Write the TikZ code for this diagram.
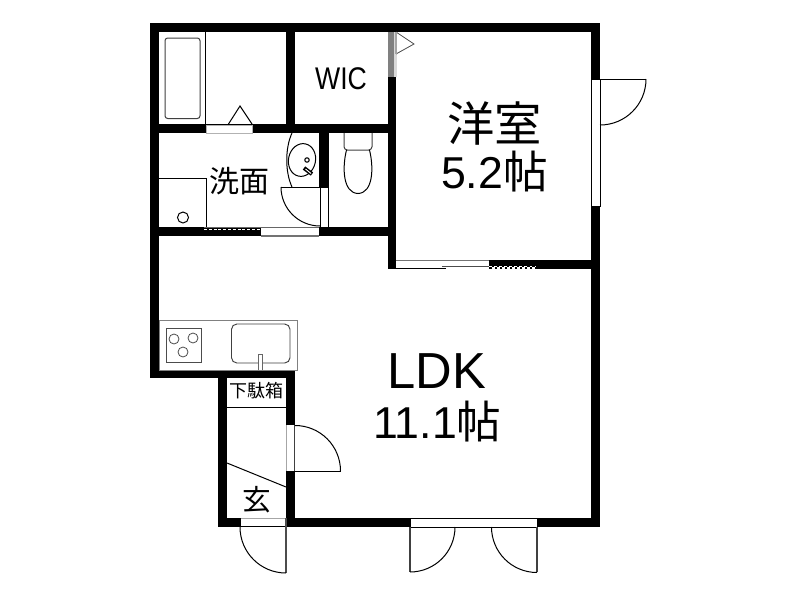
\documentclass[tikz,border=0pt]{standalone}
\usepackage{fontspec}
\setmainfont{Liberation Sans}
\newfontfamily\cjk{Noto Sans CJK JP}
\newcommand{\fs}[1]{\fontsize{#1}{#1}\selectfont}
\tikzset{
  x=0.75pt,y=-0.75pt,
  wall/.style={fill=black,draw=none},
  thin line/.style={draw=black,line width=0.75pt},
  hair/.style={draw=black!75,line width=0.6pt},
  opening/.style={fill=white,draw=black,line width=0.75pt},
  grayline/.style={draw=black!55,line width=0.9pt},
  fixture/.style={draw=black!75,line width=0.75pt,fill=white},
  label/.style={inner sep=0pt,text=black,align=center},
}
\begin{document}
\begin{tikzpicture}
\useasboundingbox (0,0) rectangle (800,600);
\fill[white] (0,0) rectangle (800,600);
% walls
\path[wall] (150,23) rectangle (600,32);
\path[wall] (150,23) rectangle (159,378);
\path[wall] (591,23) rectangle (600,527);
\path[wall] (150,124) rectangle (396,133);
\path[wall] (286,23) rectangle (295,133);
\path[wall] (388,23) rectangle (396,269);
\path[wall] (319,124) rectangle (329,187);
\path[wall] (150,227) rectangle (396,236);
\path[wall] (489,260) rectangle (600,269);
\path[wall] (150,370) rectangle (295,378);
\path[wall] (218,370) rectangle (227,527);
\path[wall] (286,370) rectangle (295,527);
\path[wall] (218,518) rectangle (600,527);
% bath
\draw[thin line] (205,32) -- (205,124);
\draw[fixture,rounded corners=2pt] (165,38) rectangle (200,118.5);
\path[fill=white,draw=black!30,line width=0.4pt] (206,125) rectangle (252,133);
\draw[thin line] (228.5,124) -- (240,106) -- (252,124);
% WIC door
\path[fill=black!50] (388,32) rectangle (394,77);
\path[fill=black!15] (394,32) rectangle (396.5,77);
\draw[draw=black!70,line width=0.6pt,fill=white] (396,32) -- (414,44) -- (396,54);
\draw[draw=black!35,line width=0.8pt] (396,32) -- (396,54);
% washroom
\draw[thin line,fill=white] (159,178) -- (206.5,178) -- (206.5,227);
\draw[thin line] (183,217.5) circle (5.5);
\path[fill=white] (261,228) rectangle (319,236);
\draw[grayline] (261,236) -- (319,236);
\draw[draw=black!60,line width=0.6pt] (204,227) -- (319,227);
\draw[white,line width=1pt,dash pattern=on 2.2pt off 1.4pt] (204,229.5) -- (261,229.5);
% door 2
\path[fill=white] (320,187) rectangle (328,227);
\draw[thin line] (320,187) rectangle (328,227);
\draw[thin line] (281,187) -- (320,187);
\draw[thin line] (281,187) arc[start angle=180,end angle=90,radius=39];
% basin
\draw[thin line] (292,133) .. controls (285,148) and (285,172) .. (292,187);
\draw[thin line,rotate around={-12:(302,160)}] (302,160) ellipse (13.5 and 16.5);
\draw[line width=0.8pt] (307,160) circle (2.2);
\draw[black,line width=3pt] (304,168) -- (312,174);
\draw[white,line width=0.7pt] (305.5,169) -- (311,173.5);
% toilet
\draw[fixture,rounded corners=2.5pt] (344,133) -- (344,150) -- (372,150) -- (372,133);
\draw[thin line] (346.5,150) .. controls (342,168) and (343,193) .. (358,193.5) .. controls (373,193) and (374,168) .. (369.5,150);
% bedroom sliding door
\path[fill=white] (396,260) rectangle (489,269);
\draw[grayline] (396,260.5) -- (489,260.5);
\draw[draw=black,line width=0.8pt] (396,268.5) -- (446,268.5);
\draw[draw=black!70,line width=0.7pt] (442,266) -- (489,266);
\draw[white,line width=1pt,dash pattern=on 2.2pt off 1.6pt] (446,268) -- (535,268);
\draw[white,line width=0.9pt,dash pattern=on 2.2pt off 1.6pt] (489,266.2) -- (535,266.2);
% east door
\draw[opening] (591.5,79) rectangle (600,206);
\draw[thin line] (600,79) -- (646,79);
\draw[thin line] (646,79) arc[start angle=0,end angle=90,radius=46];
% kitchen
\draw[draw=black!50,line width=0.6pt,fill=white] (159,320) rectangle (297,370);
\draw[draw=black!70,line width=0.6pt] (166,328) rectangle (201,362);
\draw[draw=black!70,line width=0.6pt] (174,339) circle (5) (193,338) circle (5) (183,352) circle (5);
\draw[draw=black!75,line width=0.7pt,rounded corners=4pt] (231.5,324) rectangle (290,363);
\draw[draw=black!60,line width=0.6pt,fill=white] (258.5,370) -- (258.5,354) -- (262,354) -- (262,370);
% entry
\draw[thin line] (227,407) -- (286,407);
\draw[thin line] (227,463) -- (286,487);
% door to genkan
\path[fill=white] (286,425) rectangle (295,471);
\draw[draw=black!35,line width=0.8pt] (286.5,425) -- (286.5,471);
\draw[draw=black!75,line width=0.8pt] (294.5,425) -- (294.5,471);
\draw[thin line] (295,471) -- (340.5,471);
\draw[thin line] (340.5,471) arc[start angle=0,end angle=-90,radius=45.5];
% entrance door
\path[fill=white] (240,518) rectangle (286,527);
\draw[draw=black!35,line width=0.8pt] (240,518.5) -- (286,518.5);
\draw[thin line] (240,526.5) -- (286,526.5) (240,518) -- (240,527);
\draw[draw=black!70,line width=0.8pt] (286,518) -- (286,573);
\draw[thin line] (240,527) arc[start angle=180,end angle=90,radius=46];
% balcony doors
\draw[opening] (410,518.5) rectangle (537,527);
\draw[draw=black!75,line width=0.9pt] (410,527) -- (410,572);
\draw[draw=black!75,line width=0.9pt] (537,527) -- (537,572);
\draw[thin line] (455,527) arc[start angle=0,end angle=90,radius=45];
\draw[thin line] (491.5,527) arc[start angle=180,end angle=90,radius=45.5];
% text
\node[label] (room) at (494.5,123) {\cjk\fs{35.5pt}洋室};
\node[label] (roomsize) at (494.5,172) {\fs{33.5pt}5.2{\cjk 帖}};
\node[label] (ldk) at (437,371) {\fs{38pt}LDK};
\node[label] (ldksize) at (437.5,422) {\fs{33.5pt}11.1{\cjk 帖}};
\node[label,xscale=0.85] (wic) at (341,79) {\fs{23.5pt}WIC};
\node[label] (wash) at (239,181) {\cjk\fs{22.5pt}洗面};
\node[label] (shoe) at (256.5,391) {\cjk\fs{13.5pt}下駄箱};
\node[label] (entry) at (257,500) {\cjk\fs{21.5pt}玄};
\end{tikzpicture}
\end{document}
